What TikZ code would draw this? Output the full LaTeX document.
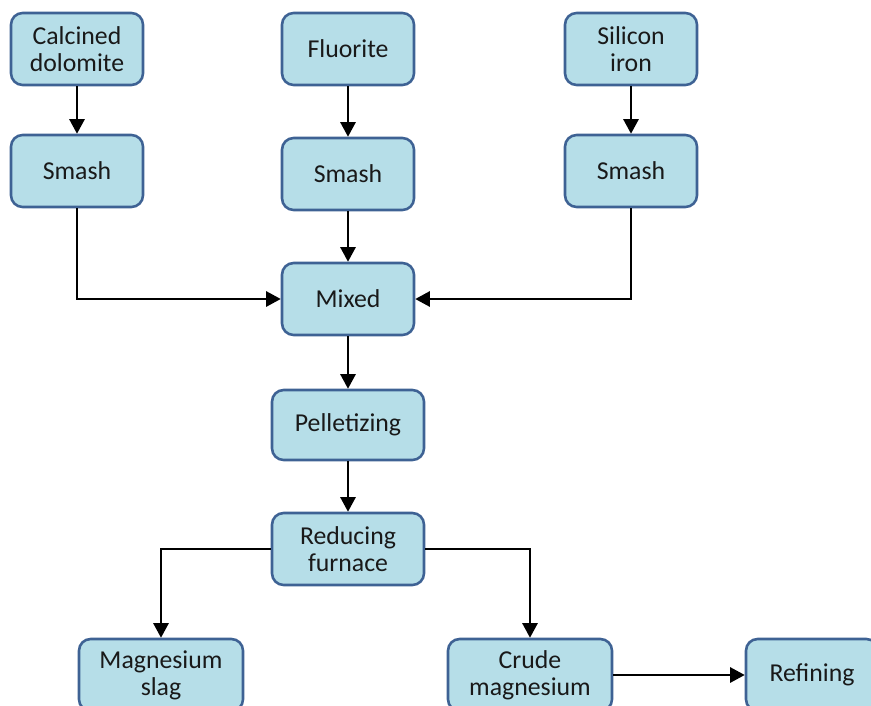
\documentclass[tikz,border=0pt]{standalone}
\usepackage{fontspec}
\setmainfont{Carlito}
\usetikzlibrary{arrows.meta}
\definecolor{boxfill}{RGB}{182,222,232}
\definecolor{boxline}{RGB}{62,98,148}

\begin{document}
\begin{tikzpicture}[
  x=0.03cm, y=-0.03cm,
  s/.style    = {line width=1.8pt, -{Triangle[length=0.44cm, width=0.46cm]}},
  proc/.style = {rectangle, draw=boxline, fill=boxfill, line width=2.2pt, rounded corners=3.5mm,
                 align=center, minimum width=3.96cm, minimum height=2.16cm, inner sep=0pt,
                 font=\fontsize{22}{23}\selectfont, text=black!90},
  wide/.style = {proc, minimum width=4.56cm},
  prod/.style = {proc, minimum width=4.92cm},
  ]
  \clip (0,0) rectangle (871,706);

  % Raw materials
  \node (dol)  at (77,49)   [proc] {Calcined\\dolomite};
  \node (flu)  at (348,49)  [proc] {Fluorite};
  \node (sil)  at (631,49)  [proc] {Silicon\\iron};
  % Crushing
  \node (sm1)  at (77,171)  [proc] {Smash};
  \node (sm2)  at (348,174) [proc] {Smash};
  \node (sm3)  at (631,171) [proc] {Smash};
  % Main line
  \node (mix)  at (348,299) [proc] {Mixed};
  \node (pel)  at (348,425) [wide, minimum height=2.1cm] {Pelletizing};
  \node (red)  at (348,549) [wide] {Reducing\\furnace};
  % Products
  \node (slag) at (161,675) [prod] {Magnesium\\slag};
  \node (cru)  at (530,675) [prod] {Crude\\magnesium};
  \node (ref)  at (812,675) [proc] {Refining};

  % Straight connections
  \draw
  (dol) edge [s] (sm1)
  (flu) edge [s] (sm2)
  (sil) edge [s] (sm3)
  (sm2) edge [s] (mix)
  (mix) edge [s] (pel)
  (pel) edge [s] (red)
  (cru) edge [s] (ref);

  % Elbow connections
  \draw [s] (sm1) |- (mix);
  \draw [s] (sm3) |- (mix);
  \draw [s] (red) -| (slag);
  \draw [s] (red) -| (cru);
\end{tikzpicture}
\end{document}
